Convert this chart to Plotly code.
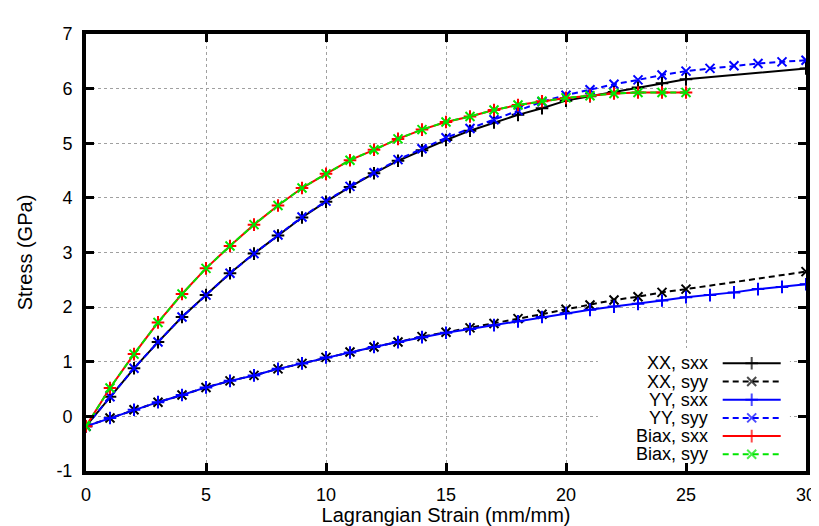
import plotly.graph_objects as go

# ---------------- data ----------------
strain_all = list(range(0, 31))
strain_xx = list(range(0, 26)) + [30]
strain_biax = list(range(0, 26))

xx_sxx = [-0.18, 0.36, 0.88, 1.36, 1.82, 2.22, 2.62, 2.98, 3.31, 3.64, 3.93,
          4.20, 4.45, 4.68, 4.87, 5.06, 5.23, 5.38, 5.52, 5.64, 5.78,
          5.86, 5.94, 6.02, 6.10, 6.17, 6.37]
xx_syy = [-0.18, -0.03, 0.12, 0.26, 0.39, 0.53, 0.65, 0.75, 0.87, 0.97, 1.08,
          1.18, 1.27, 1.36, 1.46, 1.54, 1.62, 1.70, 1.79, 1.87, 1.96,
          2.04, 2.13, 2.19, 2.27, 2.33, 2.65]
yy_sxx = [-0.18, -0.03, 0.12, 0.26, 0.39, 0.53, 0.65, 0.75, 0.87, 0.97, 1.08,
          1.17, 1.27, 1.36, 1.45, 1.53, 1.60, 1.67, 1.74, 1.82, 1.89,
          1.95, 2.01, 2.06, 2.12, 2.18, 2.22, 2.27, 2.33, 2.37, 2.42]
yy_syy = [-0.18, 0.36, 0.88, 1.36, 1.82, 2.22, 2.62, 2.98, 3.32, 3.65, 3.94,
          4.21, 4.46, 4.70, 4.90, 5.10, 5.27, 5.43, 5.60, 5.76, 5.88,
          5.98, 6.08, 6.16, 6.25, 6.32, 6.37, 6.42, 6.46, 6.49, 6.52]
biax_sxx = [-0.18, 0.52, 1.14, 1.72, 2.24, 2.71, 3.12, 3.51, 3.86, 4.18, 4.44,
            4.69, 4.88, 5.08, 5.25, 5.39, 5.49, 5.61, 5.70, 5.77, 5.83,
            5.87, 5.91, 5.93, 5.93, 5.93]
biax_syy = [-0.18, 0.52, 1.14, 1.72, 2.24, 2.71, 3.12, 3.51, 3.86, 4.18, 4.44,
            4.69, 4.88, 5.08, 5.25, 5.39, 5.49, 5.61, 5.70, 5.77, 5.83,
            5.87, 5.91, 5.93, 5.93, 5.93]

series_names = ["XX, sxx", "XX, syy", "YY, sxx", "YY, syy", "Biax, sxx", "Biax, syy"]
x_ticks = [0, 5, 10, 15, 20, 25, 30]
y_ticks = [-1, 0, 1, 2, 3, 4, 5, 6, 7]

# ---------------- styles ----------------
BLACK, BLUE, RED, GREEN = "#000000", "#0000ff", "#ff0000", "#00e600"
styles = [
    dict(color=BLACK, dash="solid", symbol="cross-thin"),
    dict(color=BLACK, dash="6px,4px", symbol="x-thin"),
    dict(color=BLUE, dash="solid", symbol="cross-thin"),
    dict(color=BLUE, dash="6px,4px", symbol="x-thin"),
    dict(color=RED, dash="solid", symbol="cross-thin"),
    dict(color=GREEN, dash="6px,4px", symbol="x-thin"),
]
data = [(strain_xx, xx_sxx), (strain_xx, xx_syy), (strain_all, yy_sxx),
        (strain_all, yy_syy), (strain_biax, biax_sxx), (strain_biax, biax_syy)]

FONT = "Liberation Sans, Arial, Helvetica, sans-serif"
fig = go.Figure()

for (xs, ys), st, nm in zip(data, styles, series_names):
    fig.add_trace(go.Scatter(
        x=xs, y=ys, name=nm, mode="lines+markers", showlegend=False,
        line=dict(color=st["color"], width=2, dash=st["dash"]),
        marker=dict(symbol=st["symbol"], size=9, color=st["color"],
                    line=dict(color=st["color"], width=2)),
        xaxis="x", yaxis="y"))

# The page body has an 8px margin: figure pixel = page pixel - 8
OFF = 8
W, H = 819 - OFF, 526 - OFF
# plot area edges in page pixels
PG_L, PG_R, PG_T, PG_B = 86, 806, 34, 471

# ---------------- custom legend (gnuplot style: text then sample) ----------------
# overlay axes whose units are page pixels
row0, row_step = 363.3, 18.2
sx0, sxm, sx1 = 722.7, 751.7, 780.7
text_right = 709

for i, (st, nm) in enumerate(zip(styles, series_names)):
    yr = row0 + i * row_step
    fig.add_trace(go.Scatter(
        x=[sx0, sxm, sx1], y=[yr, yr, yr], mode="lines+markers", showlegend=False,
        hoverinfo="skip",
        line=dict(color=st["color"], width=2, dash=st["dash"]),
        marker=dict(symbol=st["symbol"], size=[0, 9, 0], color=st["color"],
                    line=dict(color=st["color"], width=2)),
        xaxis="x2", yaxis="y2"))
    fig.add_annotation(x=text_right, y=yr, xref="x2", yref="y2", text=nm,
                       showarrow=False, xanchor="right", yanchor="middle",
                       borderpad=0,
                       font=dict(family=FONT, size=18, color="black"))

# white legend box hiding the grid
fig.add_shape(type="rect", xref="x", yref="y", x0=21.33, x1=29.33, y0=-1, y1=1.25,
              fillcolor="white", line=dict(width=0), layer="between")

axis_common = dict(
    showline=True, linecolor="black", linewidth=4, mirror="ticks",
    ticks="inside", ticklen=8, tickwidth=3, tickcolor="black",
    showgrid=True, gridcolor="#a0a0a0", griddash="dot", gridwidth=1,
    zeroline=False, automargin=False,
    tickfont=dict(family=FONT, size=18, color="black"),
)

fig.update_layout(
    width=W, height=H,
    margin=dict(l=PG_L - OFF, r=W - (PG_R - OFF), t=PG_T - OFF, b=H - (PG_B - OFF),
                autoexpand=False),
    paper_bgcolor="white", plot_bgcolor="white",
    showlegend=False,
    xaxis=dict(range=[0, 30], tickvals=x_ticks, ticktext=[str(v) for v in x_ticks],
               ticklabelstandoff=4,
               title=dict(text="Lagrangian Strain (mm/mm)", standoff=4,
                          font=dict(family=FONT, size=20, color="black")),
               **axis_common),
    yaxis=dict(range=[-1, 7], tickvals=y_ticks, ticktext=[str(v) for v in y_ticks],
               ticklabelstandoff=6,
               title=dict(text="Stress (GPa)", standoff=19,
                          font=dict(family=FONT, size=20, color="black")),
               **axis_common),
    xaxis2=dict(overlaying="x", range=[PG_L, PG_R], visible=False, fixedrange=True),
    yaxis2=dict(overlaying="y", range=[PG_B, PG_T], visible=False, fixedrange=True,
                anchor="x2"),
)

fig.write_html("out.html")
